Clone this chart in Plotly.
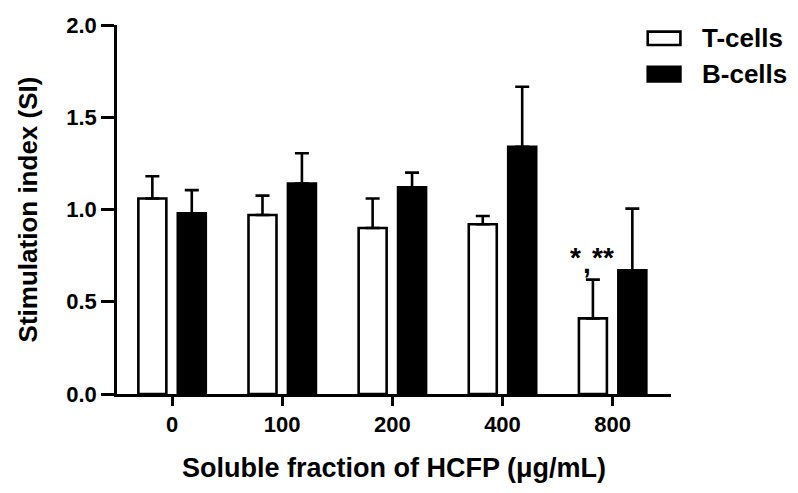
import plotly.graph_objects as go

categories = ["0", "100", "200", "400", "800"]
series_names = ["T-cells", "B-cells"]
t_values = [1.06, 0.97, 0.90, 0.92, 0.41]
t_errors = [0.12, 0.105, 0.16, 0.045, 0.21]
b_values = [0.98, 1.14, 1.12, 1.34, 0.67]
b_errors = [0.125, 0.165, 0.08, 0.325, 0.335]
y_ticks = [0.0, 0.5, 1.0, 1.5, 2.0]
y_tick_labels = ["0.0", "0.5", "1.0", "1.5", "2.0"]
sig_parts = ["*", ",", "**"]
sig_index = 4

FONT = "Liberation Sans, Arial, sans-serif"
LW = 2.6

fig = go.Figure()
fig.add_trace(go.Bar(
    x=categories, y=t_values, name=series_names[0],
    marker=dict(color="white", line=dict(color="black", width=LW)),
    error_y=dict(type="data", symmetric=False, array=t_errors,
                 arrayminus=[0] * len(t_errors), color="black",
                 thickness=LW, width=7),
))
fig.add_trace(go.Bar(
    x=categories, y=b_values, name=series_names[1],
    marker=dict(color="black", line=dict(color="black", width=LW)),
    error_y=dict(type="data", symmetric=False, array=b_errors,
                 arrayminus=[0] * len(b_errors), color="black",
                 thickness=LW, width=7),
))

# significance marks over the 800 T-cell bar (category index position)
top800 = t_values[sig_index] + t_errors[sig_index]
sig_offsets = [(-37, 22), (-26, 16), (-10, 22)]
for part, (dx, dy) in zip(sig_parts, sig_offsets):
    fig.add_annotation(x=sig_index, y=top800, xref="x", yref="y",
                       text=part, showarrow=False, xshift=dx, yshift=dy,
                       borderpad=0,
                       font=dict(family=FONT, size=28, color="black", weight="bold"))

# legend drawn as layout elements
legend_fills = ["white", "black"]
legend_rows = [(0.982, 0.946), (0.887, 0.847)]
for name, fill, (y1, y0) in zip(series_names, legend_fills, legend_rows):
    fig.add_shape(type="rect", xref="paper", yref="paper",
                  x0=0.958, x1=1.017, y0=y0, y1=y1,
                  fillcolor=fill, line=dict(color="black", width=LW))
    fig.add_annotation(xref="paper", yref="paper", x=1.052, y=(y0 + y1) / 2,
                       xanchor="left", yanchor="middle", showarrow=False,
                       text=name,
                       font=dict(family=FONT, size=26, color="black", weight="bold"))

fig.update_layout(
    width=790, height=485,
    margin=dict(l=109, r=127, t=17, b=99),
    paper_bgcolor="white", plot_bgcolor="white",
    barmode="group", bargap=0.284, bargroupgap=0.29,
    showlegend=False,
    font=dict(family=FONT, color="black"),
)
fig.update_xaxes(
    type="category", range=[-0.5, 4.53], automargin=False,
    showline=True, linecolor="black", linewidth=LW,
    ticks="outside", ticklen=9, tickwidth=LW, tickcolor="black",
    showgrid=False, zeroline=False,
    tickfont=dict(family=FONT, size=22, color="black", weight="bold"),
    title=dict(text="Soluble fraction of HCFP (μg/mL)", standoff=22,
               font=dict(family=FONT, size=27, color="black", weight="bold")),
)
fig.update_yaxes(
    range=[0, 2.0], tickvals=y_ticks, ticktext=y_tick_labels, automargin=False,
    showline=True, linecolor="black", linewidth=LW,
    ticks="outside", ticklen=13, tickwidth=LW, tickcolor="black",
    showgrid=False, zeroline=False,
    tickfont=dict(family=FONT, size=22, color="black", weight="bold"),
    title=dict(text="Stimulation index (SI)", standoff=22,
               font=dict(family=FONT, size=26, color="black", weight="bold")),
)

fig.write_html("out.html")
